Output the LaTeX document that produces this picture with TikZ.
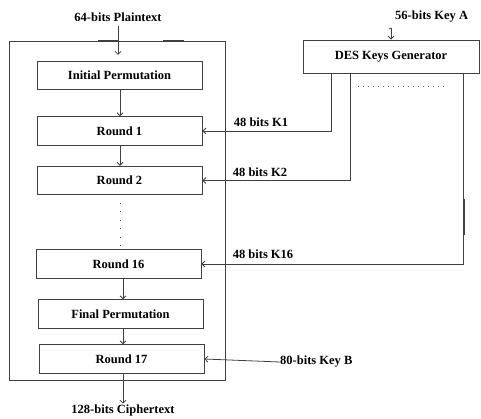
\documentclass[tikz,border=0pt]{standalone}
\usepackage{fontspec}
\setmainfont{Liberation Serif}
\usetikzlibrary{arrows.meta}
\begin{document}
\begin{tikzpicture}[x=1pt,y=-1pt,
  ln/.style={draw=black!75, line width=0.8pt},
  blk/.style={ln, minimum width=165pt, minimum height=28.5pt, inner sep=0pt, font=\bfseries\fontsize{12.5}{14}\selectfont},
  lbl/.style={inner sep=0pt, font=\bfseries\fontsize{12.5}{14}\selectfont},
  arr/.style={ln, -{Straight Barb[length=3pt,width=6pt]}}]
\useasboundingbox (0,0) rectangle (481,419);
% outer frame
\node[ln, minimum width=216pt, minimum height=339pt, inner sep=0pt] (frame) at (117,210.5) {};
\draw[line width=1.5pt, black!75] (98,41) -- (118,41);
\draw[line width=1.5pt, black!75] (163,41) -- (184,41);
% blocks
\node[blk] (ip) at (119.5,75.5) {Initial Permutation};
\node[blk] (r1) at (119.5,131) {Round 1};
\node[blk] (r2) at (119.5,180.5) {Round 2};
\node[blk] (r16) at (118.5,264) {Round 16};
\node[blk] (fp) at (120.5,314) {Final Permutation};
\node[blk] (r17) at (121.5,359) {Round 17};
\node[ln, minimum width=176pt, minimum height=33pt, inner sep=0pt, font=\bfseries\fontsize{12.5}{14}\selectfont] (kg) at (391,56.5) {DES Keys Generator};
% labels
\node[lbl] (pt) at (118,17) {64-bits Plaintext};
\node[lbl] (ct) at (123,410) {128-bits Ciphertext};
\node[lbl, anchor=west] (ka) at (395,17) {56-bits Key A};
\node[lbl, anchor=west] (kb) at (280,362) {80-bits Key B};
\coordinate (kaa) at (391,28);
\coordinate (xa) at (120,0);
\coordinate (xb) at (123,0);
% vertical flow
\draw[arr] (pt.south) ++(0,4) -- (118,55);
\draw[arr] (ip.south -| xa) -- (r1.north -| xa);
\draw[arr] (r1.south -| xa) -- (r2.north -| xa);
\draw[black!75, line width=0.9pt, dash pattern=on 0.9pt off 7.5pt] (120,203) -- (120,249);
\draw[arr] (r16.south -| xb) -- (fp.north -| xb);
\draw[arr] (fp.south -| xb) -- (r17.north -| xb);
\draw[arr] (r17.south -| xb) -- ++(0,30);
\draw[arr] (kaa) -- (kg.north -| kaa);
\draw[ln] (kaa) -- ++(-2,1);
% keys
\draw[arr] (331,73) |- (r1.east);
\node[lbl] at (261,122) {48 bits K1};
\draw[arr] (350,73) |- (r2.east);
\node[lbl] at (260,172) {48 bits K2};
\draw[arr] (463,73) |- (r16.east);
\node[lbl] at (263,254) {48 bits K16};
\draw[line width=1.5pt, black!75] (464,199) -- (464,235);
\draw[black!60, line width=0.6pt, dash pattern=on 1pt off 4pt] (358,86) -- (446,86);
\draw[arr] (kb.west) -- (r17.east);
\end{tikzpicture}
\end{document}
